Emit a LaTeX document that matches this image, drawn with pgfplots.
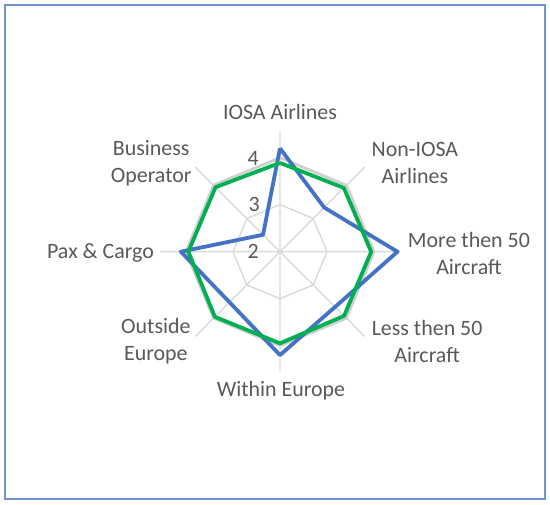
\documentclass[border=0pt]{standalone}
\usepackage{fontspec}
\setmainfont{Carlito}
\usepackage{pgfplots}
\usepackage{pgfplotstable}
\pgfplotsset{compat=1.18}
\definecolor{xlblue}{HTML}{4472C4}
\definecolor{xlgreen}{HTML}{00B050}
\definecolor{gridgray}{HTML}{D9D9D9}
\definecolor{ringgray}{HTML}{CFCFCF}
\definecolor{txtgray}{HTML}{595959}
\definecolor{framebl}{HTML}{7094D0}
\newcommand{\lbl}{\fontsize{22}{27}\selectfont}
\tikzset{lab/.style={font=\lbl, text=txtgray, align=center, inner sep=0pt}}

% angle (deg), value; axis runs from 2 (centre) to 4
\pgfplotstableread{
a v
90 4.20
45 3.33
0 4.50
-45 3.66
-90 4.20
-135 3.52
180 4.11
135 2.51
90 4.20
}\blueT
\pgfplotstableread{
a v
90 3.89
45 3.92
0 3.94
-45 3.93
-90 3.95
-135 3.96
180 3.95
135 3.94
90 3.89
}\greenT
\pgfplotstableread{
a r3 r4
90 3 4
45 3 4
0 3 4
-45 3 4
-90 3 4
-135 3 4
180 3 4
135 3 4
90 3 4
}\ringT
\pgfplotstableread{
a v
90 4.55
90 2
45 4.55
45 2
0 4.55
0 2
-45 4.55
-45 2
-90 4.55
-90 2
-135 4.55
-135 2
180 4.55
180 2
135 4.55
}\spokeT

\begin{document}
\begin{tikzpicture}
\begin{axis}[
  x=47bp, y=47bp,
  xmin=-3, xmax=3, ymin=-3, ymax=3,
  hide axis, clip=false,
]
\coordinate (c) at (axis cs:0,0);
\addplot[gridgray, line width=1.4bp] table[x expr={(\thisrow{v}-2)*cos(\thisrow{a})}, y expr={(\thisrow{v}-2)*sin(\thisrow{a})}] {\spokeT};
\addplot[gridgray, line width=1.4bp, line join=miter] table[x expr={(\thisrow{r3}-2)*cos(\thisrow{a})}, y expr={(\thisrow{r3}-2)*sin(\thisrow{a})}] {\ringT};
\addplot[ringgray, line width=2.8bp, line join=miter] table[x expr={(\thisrow{r4}-2)*cos(\thisrow{a})}, y expr={(\thisrow{r4}-2)*sin(\thisrow{a})}] {\ringT};
\addplot[xlblue, line width=3.8bp, line join=round] table[x expr={(\thisrow{v}-2)*cos(\thisrow{a})}, y expr={(\thisrow{v}-2)*sin(\thisrow{a})}] {\blueT};
\addplot[xlgreen, line width=3.8bp, line join=round] table[x expr={(\thisrow{v}-2)*cos(\thisrow{a})}, y expr={(\thisrow{v}-2)*sin(\thisrow{a})}] {\greenT};
% scale labels
\node[lab] at (axis cs:-0.57,1.99) {4};
\node[lab] at (axis cs:-0.55,1.00) {3};
\node[lab] at (axis cs:-0.57,0.0) {2};
% category labels
\node[lab] at (axis cs:0,2.98) {IOSA Airlines};
\node[lab] at (axis cs:2.87,1.88) {Non-IOSA\\Airlines};
\node[lab] at (axis cs:4.02,-0.04) {More then 50\\Aircraft};
\node[lab] at (axis cs:3.13,-1.91) {Less then 50\\Aircraft};
\node[lab] at (axis cs:0.02,-2.96) {Within Europe};
\node[lab] at (axis cs:-2.64,-1.91) {Outside\\Europe};
\node[lab, anchor=east] at (axis cs:-2.68,-0.03) {Pax \& Cargo};
\node[lab] at (axis cs:-2.74,1.88) {Business\\Operator};
\end{axis}
\draw[framebl, line width=1.2bp] ([shift={(-275bp,246.7bp)}]c) rectangle ([shift={(265bp,-247.3bp)}]c);
\path ([shift={(-280bp,251.7bp)}]c) rectangle ([shift={(270bp,-253.3bp)}]c);
\end{tikzpicture}
\end{document}
